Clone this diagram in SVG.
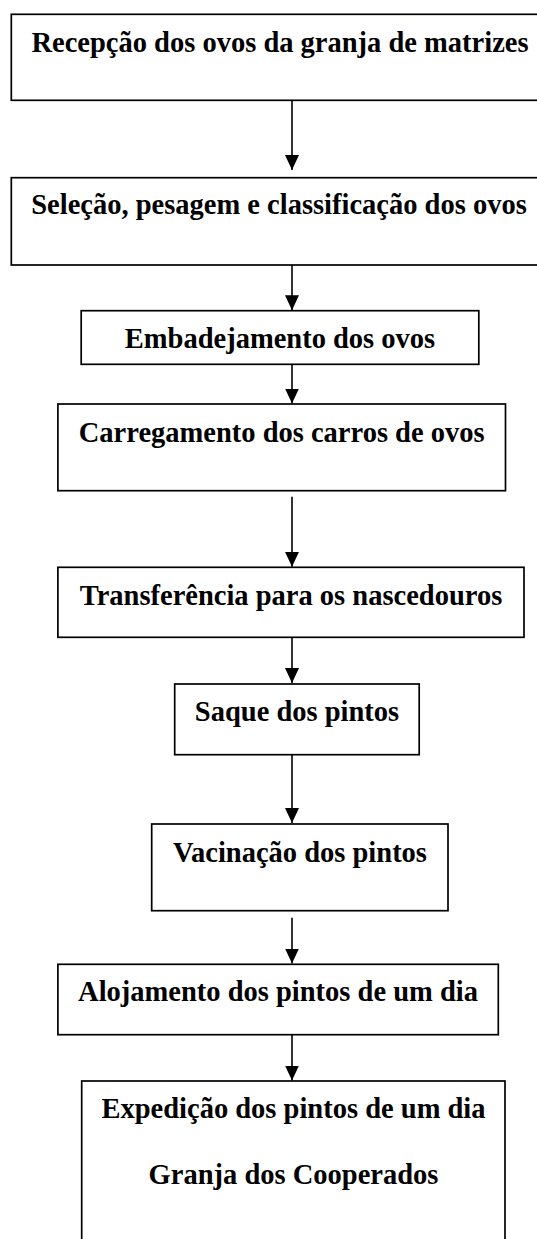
<svg xmlns="http://www.w3.org/2000/svg" width="537" height="1239" viewBox="0 0 537 1239">
  <style>
    .box { fill: #ffffff; stroke: #000000; stroke-width: 1.7; }
    .lbl { font-family: "Liberation Serif", "Times New Roman", serif; font-weight: bold; font-size: 28.5px; fill: #000000; text-anchor: middle; }
    .conn { stroke: #000000; stroke-width: 1.6; fill: none; marker-end: url(#arrow); }
  </style>
  <defs>
    <marker id="arrow" viewBox="0 0 15 14" refX="15" refY="7" markerWidth="15" markerHeight="14" markerUnits="userSpaceOnUse" orient="auto">
      <path d="M0,0 L15,7 L0,14 z" fill="#000000"/>
    </marker>
  </defs>
  <rect width="537" height="1239" fill="#ffffff"/>

  <g id="connectors">
    <line class="conn" x1="292" y1="100.3" x2="292" y2="170"/>
    <line class="conn" x1="292" y1="265" x2="292" y2="310.3"/>
    <line class="conn" x1="292" y1="364.3" x2="292" y2="403.5"/>
    <line class="conn" x1="292" y1="496.7" x2="292" y2="566.8"/>
    <line class="conn" x1="292" y1="637.3" x2="292" y2="683"/>
    <line class="conn" x1="292" y1="754.7" x2="292" y2="823"/>
    <line class="conn" x1="292" y1="917.7" x2="292" y2="963.5"/>
    <line class="conn" x1="292" y1="1034.7" x2="292" y2="1080.5"/>
  </g>

  <g id="node1">
    <rect class="box" x="11.3" y="14.3" width="540" height="86"/>
    <text class="lbl" x="280" y="52">Recepção dos ovos da granja de matrizes</text>
  </g>
  <g id="node2">
    <rect class="box" x="11.3" y="177.7" width="540" height="87.3"/>
    <text class="lbl" x="279" y="213.5">Seleção, pesagem e classificação dos ovos</text>
  </g>
  <g id="node3">
    <rect class="box" x="81.2" y="310.7" width="397.6" height="53.6"/>
    <text class="lbl" x="280" y="348.3">Embadejamento dos ovos</text>
  </g>
  <g id="node4">
    <rect class="box" x="57.9" y="404" width="447.6" height="86.7"/>
    <text class="lbl" x="281.7" y="441.7">Carregamento dos carros de ovos</text>
  </g>
  <g id="node5">
    <rect class="box" x="57.9" y="567.3" width="466.1" height="70"/>
    <text class="lbl" x="291" y="605">Transferência para os nascedouros</text>
  </g>
  <g id="node6">
    <rect class="box" x="174.7" y="684" width="244.5" height="70.7"/>
    <text class="lbl" x="297" y="720.7">Saque dos pintos</text>
  </g>
  <g id="node7">
    <rect class="box" x="151.7" y="824" width="296.3" height="86.7"/>
    <text class="lbl" x="300" y="861.7">Vacinação dos pintos</text>
  </g>
  <g id="node8">
    <rect class="box" x="57.9" y="964.3" width="440.4" height="70.4"/>
    <text class="lbl" x="278" y="1000.7">Alojamento dos pintos de um dia</text>
  </g>
  <g id="node9">
    <rect class="box" x="81.7" y="1081" width="423.3" height="180"/>
    <text class="lbl" x="293.5" y="1118.3">Expedição dos pintos de um dia</text>
    <text class="lbl" x="293.5" y="1184">Granja dos Cooperados</text>
  </g>
</svg>
